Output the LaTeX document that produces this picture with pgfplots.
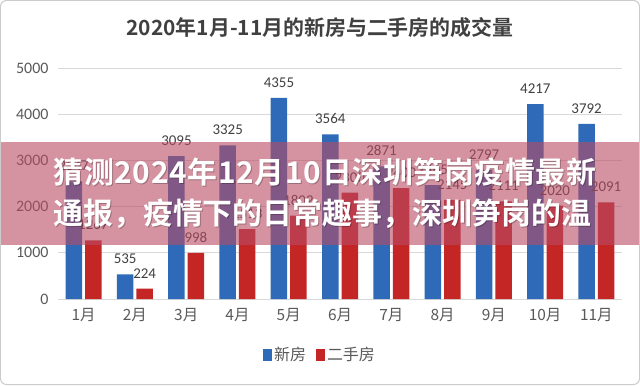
\documentclass[border=0pt]{standalone}
\usepackage{pgfplots}
\pgfplotsset{compat=1.18}
\usepackage{fontspec}
\setmainfont{Carlito}
\newfontfamily\cjk[BoldFont={Noto Sans CJK SC Bold}]{Noto Sans CJK SC}
\newfontfamily\cjkwide[LetterSpace=2.2]{Noto Sans CJK SC Bold}
\definecolor{barblue}{RGB}{46,106,184}
\definecolor{barred}{RGB}{196,38,38}
\definecolor{lbl}{RGB}{64,64,64}
\definecolor{tickc}{RGB}{89,89,89}
\definecolor{band}{RGB}{185,75,100}
\definecolor{gridc}{RGB}{217,217,217}
\pgfkeys{/pgf/number format/.cd, assume math mode=true, 1000 sep={}}
\begin{document}
\begin{tikzpicture}[x=1bp,y=1bp]
\useasboundingbox (0,0) rectangle (640,385);
\fill[white] (0,0) rectangle (640,385);
\begin{axis}[
  at={(58bp,86bp)}, anchor=south west,
  width=564bp, height=231bp, scale only axis,
  ybar=3bp, bar width=16.5bp,
  xmin=0.5, xmax=11.5, ymin=0, ymax=5000,
  xtick={1,...,11},
  xticklabels={1月,2月,3月,4月,5月,6月,7月,8月,9月,10月,11月},
  ytick={0,1000,...,5000},
  axis x line*=bottom,
  axis y line*=left,
  y axis line style={draw=none},
  x axis line style={draw=gridc, line width=0.8bp, -},
  ymajorgrids, grid style={draw=gridc, line width=0.8bp},
  major tick length=0pt,
  xticklabel style={font=\cjk\fontsize{15.5}{15.5}\selectfont, text=tickc, yshift=-6bp},
  yticklabel style={font=\fontsize{16}{16}\selectfont, text=tickc, xshift=-6bp},
  ytick style={draw=none}, xtick style={draw=none},
  nodes near coords,
  every node near coord/.append style={font=\fontsize{15}{15}\selectfont, text=lbl, yshift=7bp},
  legend style={at={(0.4645,-0.242)}, anchor=center, draw=none, fill=none,
    legend columns=2, font=\cjk\fontsize{16}{16}\selectfont, text=tickc,
    /tikz/every even column/.style={column sep=8bp}},
]
\addplot[fill=barblue, draw=none,
  legend image code/.code={\fill[barblue] (0bp,-6bp) rectangle (9bp,6bp);}]
  coordinates {(1,2547) (2,535) (3,3095) (4,3325) (5,4355) (6,3564) (7,2871) (8,2465) (9,2797) (10,4217) (11,3792)};
\addplot[fill=barred, draw=none,
  legend image code/.code={\fill[barred] (0bp,-6bp) rectangle (9bp,6bp);}]
  coordinates {(1,1267) (2,224) (3,998) (4,1513) (5,1802) (6,2300) (7,2400) (8,2145) (9,2111) (10,2020) (11,2091)};
\legend{新房,二手房}
\end{axis}
\node[font=\cjk\bfseries\fontsize{21}{21}\selectfont, text=lbl] at (320,357) {2020年1月-11月的新房与二手房的成交量};
\fill[band, opacity=0.6] (0,140) rectangle (640,243);
\begin{scope}[font=\cjk\bfseries\fontsize{30}{30}\selectfont]
\node[anchor=west, text=black, opacity=0.25, font=\cjkwide\fontsize{30}{30}\selectfont] at (51,212) {猜测2024年12月10日深圳笋岗疫情最新};
\node[anchor=west, text=black, opacity=0.25] at (51,170) {通报，疫情下的日常趣事，深圳笋岗的温};
\node[anchor=west, text=white, font=\cjkwide\fontsize{30}{30}\selectfont] at (50,213) {猜测2024年12月10日深圳笋岗疫情最新};
\node[anchor=west, text=white] at (50,171) {通报，疫情下的日常趣事，深圳笋岗的温};
\end{scope}
\draw[draw=black!20, line width=1bp, rounded corners=6bp] (0.5,0.5) rectangle (639.5,384.5);
\end{tikzpicture}
\end{document}
